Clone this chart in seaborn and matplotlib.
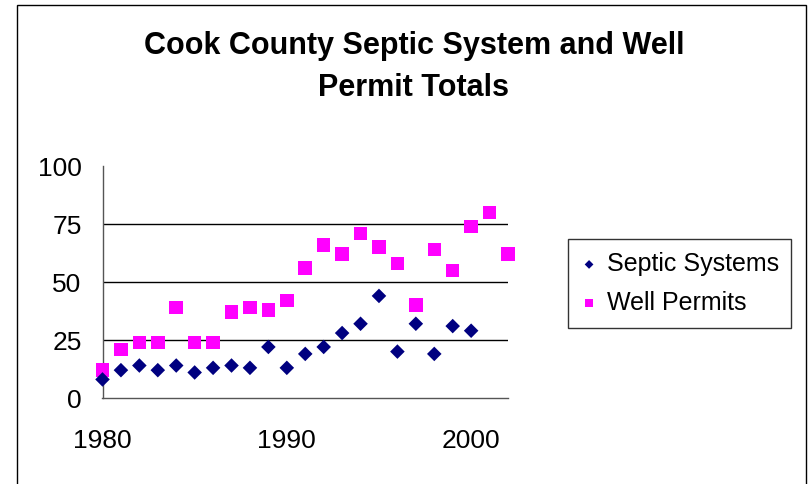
import matplotlib
matplotlib.use("Agg")
import matplotlib.pyplot as plt
import seaborn as sns
import pandas as pd
from matplotlib.patches import Rectangle

years_septic = [1980, 1981, 1982, 1983, 1984, 1985, 1986, 1987, 1988, 1989, 1990,
                1991, 1992, 1993, 1994, 1995, 1996, 1997, 1998, 1999, 2000]
septic = [8, 12, 14, 12, 14, 11, 13, 14, 13, 22, 13,
          19, 22, 28, 32, 44, 20, 32, 19, 31, 29]
years_well = [1980, 1981, 1982, 1983, 1984, 1985, 1986, 1987, 1988, 1989, 1990,
              1991, 1992, 1993, 1994, 1995, 1996, 1997, 1998, 1999, 2000, 2001, 2002]
well = [12, 21, 24, 24, 39, 24, 24, 37, 39, 38, 42,
        56, 66, 62, 71, 65, 58, 40, 64, 55, 74, 80, 62]
series_names = ["Septic Systems", "Well Permits"]
title = "Cook County Septic System and Well\nPermit Totals"
xticks = [1980, 1990, 2000]
yticks = [0, 25, 50, 75, 100]

df = pd.concat([
    pd.DataFrame({"Year": years_septic, "Count": septic, "Series": series_names[0]}),
    pd.DataFrame({"Year": years_well, "Count": well, "Series": series_names[1]}),
])

sns.set_style("white")
plt.rcParams['font.family'] = ['Liberation Sans', 'DejaVu Sans']
plt.rcParams['text.color'] = 'black'
plt.rcParams['xtick.color'] = 'black'
plt.rcParams['ytick.color'] = 'black'

fig = plt.figure(figsize=(8.09, 4.84), dpi=100)
fig.patches.append(Rectangle((17 / 809, -0.01), (806 - 17) / 809, 1 - 5 / 484 + 0.01,
                             transform=fig.transFigure, fill=False, edgecolor="black",
                             linewidth=1.0))
ax = fig.add_axes([102.5 / 809, 1 - 398 / 484, (508 - 102.5) / 809, (398 - 166) / 484])

sizes = {series_names[0]: 55, series_names[1]: 95}
for name, marker, color in [(series_names[1], "s", "#FF00FF"), (series_names[0], "D", "#000080")]:
    sub = df[df["Series"] == name]
    sns.scatterplot(data=sub, x="Year", y="Count", ax=ax, marker=marker, color=color,
                    s=sizes[name], edgecolor="none", label=name, clip_on=False, zorder=3)

ax.set_xlim(1980, 2002)
ax.set_ylim(0, 100)
ax.set_xticks(xticks)
ax.set_yticks(yticks)
ax.set_xlabel("")
ax.set_ylabel("")
for y in yticks[1:-1]:
    ax.axhline(y, color="black", linewidth=1.0, zorder=1)
for side in ["top", "right"]:
    ax.spines[side].set_visible(False)
for side in ["left", "bottom"]:
    ax.spines[side].set_color("#555555")
    ax.spines[side].set_linewidth(1.0)
ax.tick_params(axis="both", direction="out", length=7, width=1, color="#333333",
               labelsize=19, labelcolor="black")
ax.tick_params(axis="y", pad=8)
ax.tick_params(axis="x", pad=15)

fig.text(414 / 809, 1 - 67 / 484, title, ha="center", va="center", fontsize=22,
         fontweight="bold", linespacing=1.5, color="black")

handles, labels = ax.get_legend_handles_labels()
order = [labels.index(series_names[0]), labels.index(series_names[1])]
leg = fig.legend([handles[i] for i in order], [labels[i] for i in order],
                 loc="center", bbox_to_anchor=(679.5 / 809, 1 - 283.5 / 484),
                 frameon=True, fontsize=18, handletextpad=0.35, borderpad=0.5,
                 labelspacing=0.6, handlelength=0.7, markerscale=0.6, fancybox=False,
                 borderaxespad=0)
leg.get_frame().set_edgecolor("black")
leg.get_frame().set_linewidth(1.0)
if ax.get_legend():
    ax.get_legend().remove()

fig.savefig("out.png", dpi=100)
